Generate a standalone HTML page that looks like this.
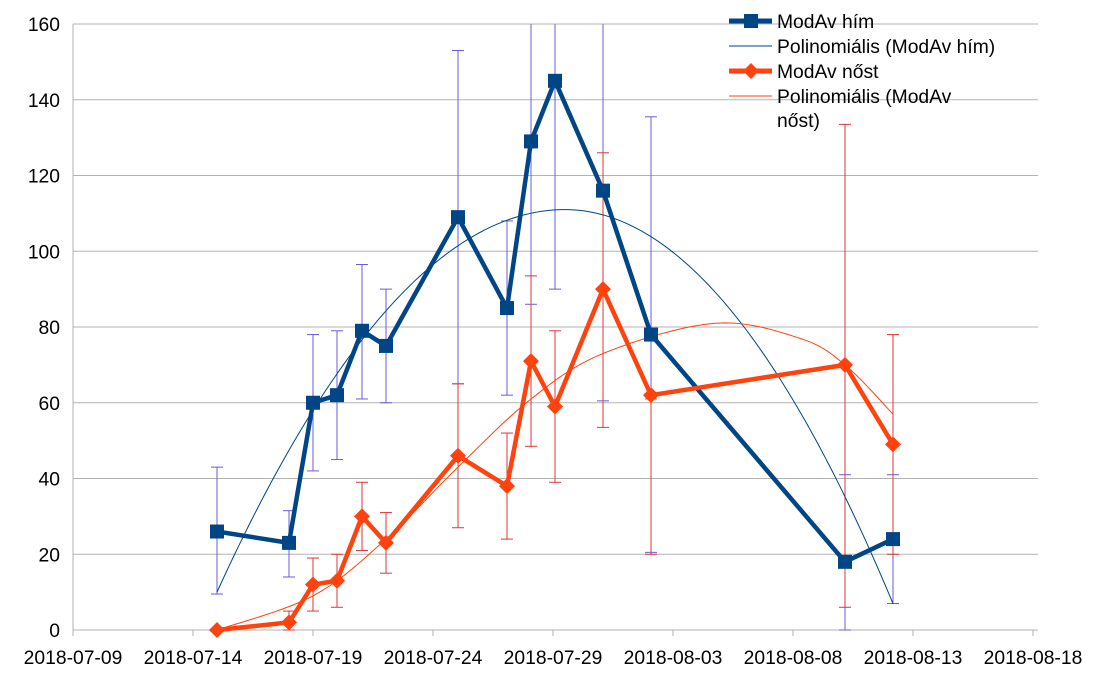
<!DOCTYPE html>
<html><head><meta charset="utf-8"><style>
body{margin:0;background:#fff;}
svg{display:block;font-family:"Liberation Sans",sans-serif;}
</style></head><body>
<svg id="s" width="1110" height="679" xmlns="http://www.w3.org/2000/svg"></svg>
<script>
const s=document.getElementById('s');let h='';
const X0=73,DX=24,Y0=630,KY=3.7875;
const yv=v=>Y0-v*KY;
const FS=19.3;
for(let v=0;v<=160;v+=20){const y=yv(v);h+=`<line x1="${X0}" x2="1038" y1="${y}" y2="${y}" stroke="#b3b3b3" stroke-width="1"/>`;
h+=`<text x="60" y="${y+7}" font-size="${FS}" text-anchor="end" fill="#000">${v}</text>`;}
h+=`<line x1="${X0}" x2="${X0}" y1="24" y2="630" stroke="#b3b3b3"/>`;
const labs=['2018-07-09','2018-07-14','2018-07-19','2018-07-24','2018-07-29','2018-08-03','2018-08-08','2018-08-13','2018-08-18'];
labs.forEach((l,i)=>{const x=X0+i*120;h+=`<line x1="${x}" x2="${x}" y1="630" y2="636" stroke="#b3b3b3"/><text x="${x}" y="664" font-size="${FS}" text-anchor="middle">${l}</text>`;});
const xs=[217,289,313,337,362,386,458,507,531,555,603,651,845,893];
const m=[26,23,60,62,79,75,109,85,129,145,116,78,18,24];
const f=[0,2,12,13,30,23,46,38,71,59,90,62,70,49];
const me=[[43,9.5],[31.5,14],[78,42],[79,45],[96.5,61],[90,60],[153,65],[108,62],[200,86],[200,90],[200,60.5],[135.5,20.5],[41,0],[41,7]];
const fe=[null,[5,0],[19,5],[20,6],[39,21],[31,15],[65,27],[52,24],[93.5,48.5],[79,39],[126,53.5],[61,20],[133.5,6],[78,20]];
function eb(arr,c){arr.forEach((e,i)=>{if(!e)return;const x=xs[i];let t=Math.max(yv(e[0]),24),b=yv(e[1]);
h+=`<line x1="${x}" x2="${x}" y1="${t}" y2="${b}" stroke="${c}"/>`;
if(e[0]<=160)h+=`<line x1="${x-6}" x2="${x+6}" y1="${t}" y2="${t}" stroke="${c}"/>`;
h+=`<line x1="${x-6}" x2="${x+6}" y1="${b}" y2="${b}" stroke="${c}"/>`;});}
eb(me,'#6a5bdc');eb(fe,'#e0353a');
let p='';for(let x=217;x<=893;x+=4){const a=x<565?-0.000834:-0.000967;p+=`${x},${yv(a*(x-565)**2+111)} `;}
h+=`<polyline points="${p}" fill="none" stroke="#004586" stroke-width="1"/>`;
// female trend: catmull-rom through control points
const fp=[[217,0],[313,9],[386,24],[458,43],[531,61],[603,73],[715,81],[800,77],[845,70],[893,57]];
p='';
for(let i=0;i<fp.length-1;i++){const p0=fp[Math.max(i-1,0)],p1=fp[i],p2=fp[i+1],p3=fp[Math.min(i+2,fp.length-1)];
for(let t=0;t<1;t+=0.1){const t2=t*t,t3=t2*t;
const x=0.5*((2*p1[0])+(-p0[0]+p2[0])*t+(2*p0[0]-5*p1[0]+4*p2[0]-p3[0])*t2+(-p0[0]+3*p1[0]-3*p2[0]+p3[0])*t3);
const v=0.5*((2*p1[1])+(-p0[1]+p2[1])*t+(2*p0[1]-5*p1[1]+4*p2[1]-p3[1])*t2+(-p0[1]+3*p1[1]-3*p2[1]+p3[1])*t3);
p+=`${x},${yv(v)} `;}}
p+=`893,${yv(57)}`;
h+=`<polyline points="${p}" fill="none" stroke="#ff420e" stroke-width="1"/>`;
h+=`<polyline points="${xs.map((x,i)=>x+','+yv(m[i])).join(' ')}" fill="none" stroke="#004586" stroke-width="4.5" stroke-linejoin="round"/>`;
xs.forEach((x,i)=>{h+=`<rect x="${x-7}" y="${yv(m[i])-7}" width="14" height="14" fill="#004586"/>`;});
h+=`<polyline points="${xs.map((x,i)=>x+','+yv(f[i])).join(' ')}" fill="none" stroke="#ff420e" stroke-width="4.5" stroke-linejoin="round"/>`;
xs.forEach((x,i)=>{const y=yv(f[i]);h+=`<polygon points="${x},${y-8} ${x+8},${y} ${x},${y+8} ${x-8},${y}" fill="#ff420e"/>`;});
const L=729,R=772;
h+=`<line x1="${L}" x2="${R}" y1="21" y2="21" stroke="#004586" stroke-width="5"/><rect x="${L+15}" y="14" width="14" height="14" fill="#004586"/>`;
h+=`<text x="777" y="28" font-size="${FS}">ModAv hím</text>`;
h+=`<line x1="${L}" x2="${R}" y1="46" y2="46" stroke="#004586" stroke-width="1"/><text x="777" y="53" font-size="${FS}">Polinomiális (ModAv hím)</text>`;
h+=`<line x1="${L}" x2="${R}" y1="71" y2="71" stroke="#ff420e" stroke-width="5"/><polygon points="751,63 759,71 751,79 743,71" fill="#ff420e"/>`;
h+=`<text x="777" y="78" font-size="${FS}">ModAv nőst</text>`;
h+=`<line x1="${L}" x2="${R}" y1="96" y2="96" stroke="#ff420e" stroke-width="1"/><text x="777" y="103" font-size="${FS}">Polinomiális (ModAv</text><text x="777" y="127" font-size="${FS}">nőst)</text>`;
s.innerHTML=h;
</script>
</body></html>
